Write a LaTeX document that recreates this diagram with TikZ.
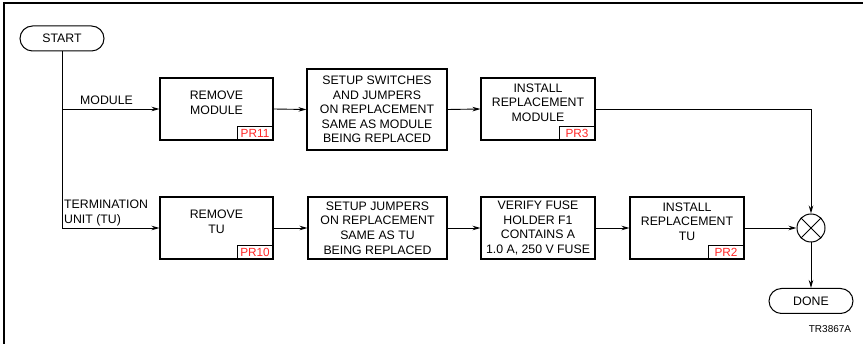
\documentclass[tikz,border=0pt]{standalone}
\usepackage{fontspec}
\setmainfont{Liberation Sans}
\usetikzlibrary{arrows.meta,calc}
\definecolor{TagClr}{rgb}{1,0.15,0.15}

\begin{document}
\begin{tikzpicture}[x=1pt,y=-1pt,
  font=\fontsize{12.3}{14.6}\selectfont,
  box/.style={draw,line width=1.1pt,align=center,inner sep=0pt,minimum height=62pt},
  tagged/.style={text depth=13pt},
  tag/.style={draw,line width=1pt,anchor=south east,minimum width=36pt,minimum height=14pt,
    inner sep=0pt,text=TagClr,font=\fontsize{11.8}{13}\selectfont},
  pill/.style={draw,line width=1pt,rounded corners=12.5pt,minimum width=84pt,minimum height=25pt,inner sep=0pt},
  arr/.style={line width=0.9pt,-{Stealth[length=8pt,width=4.5pt]}},
  lbl/.style={inner sep=0pt,align=left}]

\useasboundingbox (0,0) rectangle (863,344);
\draw[line width=1.3pt] (4,344) -- (4,3) -- (863,3);

\node[pill] (start) at (62,38.5) {START};
\node[pill] (done) at (811,301) {DONE};

% module branch
\node[box,tagged,minimum width=113pt] (rmMod) at (216.5,109) {REMOVE\\MODULE};
\node[box,minimum width=140pt,minimum height=81pt] (setMod) at (377,109.5)
  {SETUP SWITCHES\\AND JUMPERS\\ON REPLACEMENT\\SAME AS MODULE\\BEING REPLACED};
\node[box,tagged,minimum width=114pt] (instMod) at (538,109) {INSTALL\\REPLACEMENT\\MODULE};

% termination unit branch
\node[box,tagged,minimum width=113pt] (rmTU) at (216.5,228) {REMOVE\\TU};
\node[box,minimum width=139pt] (setTU) at (377.5,228)
  {SETUP JUMPERS\\ON REPLACEMENT\\SAME AS TU\\BEING REPLACED};
\node[box,minimum width=114pt] (fuse) at (538,228)
  {VERIFY FUSE\\HOLDER F1\\CONTAINS A\\1.0 A, 250 V FUSE};
\node[box,tagged,minimum width=114pt] (instTU) at (687,228) {INSTALL\\REPLACEMENT\\TU};

\node[tag] (tagRmMod) at (rmMod.south east) {PR11};
\node[tag] (tagInstMod) at (instMod.south east) {PR3};
\node[tag] (tagRmTU) at (rmTU.south east) {PR10};
\node[tag] (tagInstTU) at (instTU.south east) {PR2};

\node[circle,draw,line width=1pt,minimum size=28pt,inner sep=0pt,
  path picture={\draw[line width=1pt] (path picture bounding box.north west) -- (path picture bounding box.south east)
    (path picture bounding box.north east) -- (path picture bounding box.south west);}] (sum) at (811,228) {};

\coordinate (modJoin) at (62,109);
\coordinate (tuJoin) at (62,228);

\node[lbl,anchor=south west] (modLbl) at (80,104.5) {MODULE};
\node[lbl,anchor=south west] (tuLbl) at (64,226) {TERMINATION\\UNIT (TU)};

\draw[line width=0.9pt] (start.south) -- (tuJoin);
\draw[arr] (modJoin) -- (rmMod.west);
\draw[arr] (rmMod.east) -- (setMod.west);
\draw[arr] (setMod.east) -- (instMod.west);
\draw[arr] (instMod.east) -| (sum.north);

\draw[arr] (tuJoin) -- (rmTU.west);
\draw[arr] (rmTU.east) -- (setTU.west);
\draw[arr] (setTU.east) -- (fuse.west);
\draw[arr] (fuse.east) -- (instTU.west);
\draw[arr] (instTU.east) -- (sum.west);
\draw[arr] (sum.south) -- (done.north);

\node[font=\fontsize{10}{12}\selectfont] (figId) at (830,329) {TR3867A};

\end{tikzpicture}
\end{document}
